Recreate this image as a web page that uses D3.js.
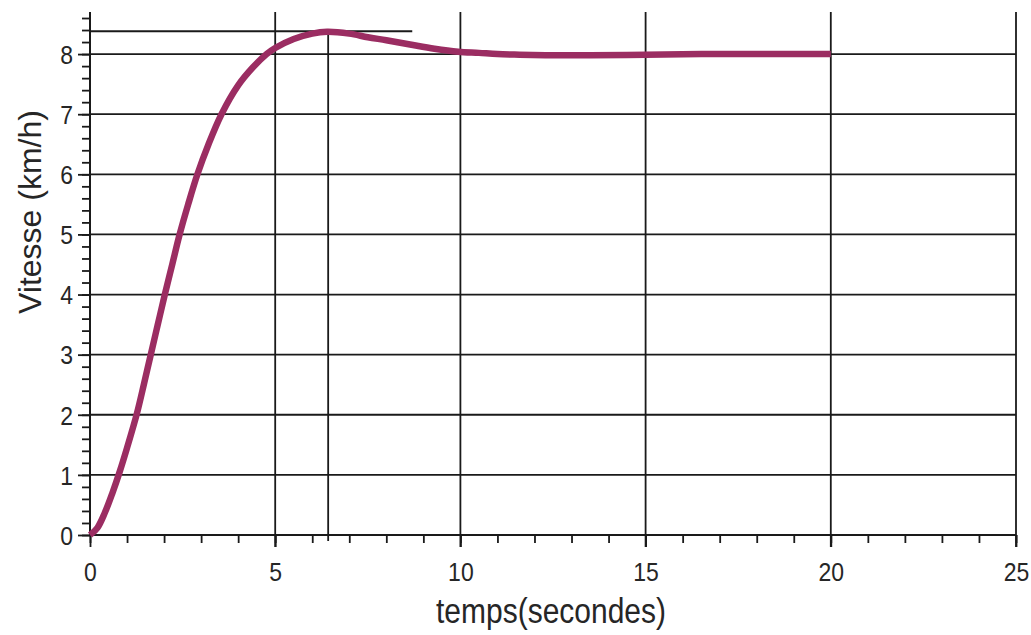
<!DOCTYPE html>
<html>
<head>
<meta charset="utf-8">
<script src="https://cdn.jsdelivr.net/npm/d3@7"></script>
<style>
  html, body { margin: 0; padding: 0; background: #fff; }
  svg { display: block; font-family: "Liberation Sans", Arial, sans-serif; }
</style>
</head>
<body>
<svg id="chart" width="1031" height="635"></svg>
<script>
// ---- data ----
const timeValues  = [0, 0.2, 0.4, 0.6, 0.8, 1.0, 1.27, 1.46, 1.64, 1.83, 2.02, 2.22, 2.42, 2.65, 2.9, 3.2, 3.55, 4.0, 4.4, 4.77, 5.0, 5.5, 6.0, 6.4, 7.0, 7.5, 8.0, 8.64, 9.3, 9.94, 10.5, 11.0, 11.6, 12.5, 13.5, 15.0, 16.5, 18.0, 20.0];
const speedValues = [0, 0.12, 0.37, 0.69, 1.05, 1.45, 2.03, 2.52, 3.0, 3.5, 4.0, 4.5, 5.0, 5.5, 6.0, 6.5, 7.0, 7.48, 7.78, 8.0, 8.1, 8.25, 8.34, 8.37, 8.34, 8.28, 8.23, 8.16, 8.09, 8.04, 8.02, 8.0, 7.99, 7.98, 7.98, 7.99, 8.0, 8.0, 8.0];
const xTickLabels = [0, 5, 10, 15, 20, 25];
const yTickLabels = [0, 1, 2, 3, 4, 5, 6, 7, 8];
const peakTime = 6.43;       // vertical marker line
const peakSpeed = 8.38;      // horizontal marker line
const peakLineEnd = 8.7;     // end of the horizontal marker
const xTitle = "temps(secondes)";
const yTitle = "Vitesse (km/h)";

// ---- layout ----
const mLeft = 90, mRight = 1016, mBottom = 535, mTop = 12;
const svg = d3.select("#chart");

const x = d3.scaleLinear().domain([0, 25]).range([mLeft, mRight]);
const y = d3.scaleLinear().domain([0, 8.7]).range([mBottom, mTop]);

const ink = "#1a1a1a";
const textInk = "#262626";
const curveColor = "#9b2d62";
const gridW = 1.8;

// horizontal grid lines
svg.append("g").selectAll("line")
  .data(yTickLabels.filter(v => v > 0))
  .join("line")
  .attr("x1", x(0)).attr("x2", x(25))
  .attr("y1", d => y(d)).attr("y2", d => y(d))
  .attr("stroke", ink).attr("stroke-width", gridW);

// vertical grid lines
svg.append("g").selectAll("line")
  .data(xTickLabels.filter(v => v > 0))
  .join("line")
  .attr("x1", d => x(d)).attr("x2", d => x(d))
  .attr("y1", y(0) + 12).attr("y2", y(8.7))
  .attr("stroke", ink).attr("stroke-width", gridW);

// x axis: minor ticks every 1, major every 5
const xAxisMinor = d3.axisBottom(x).tickValues(d3.range(0, 26, 1)).tickSize(8).tickFormat("");
const gxm = svg.append("g").attr("transform", `translate(0,${mBottom})`).call(xAxisMinor);
gxm.select(".domain").remove();
gxm.selectAll("line").attr("stroke", ink).attr("stroke-width", 1.8);

const xAxisMajor = d3.axisBottom(x).tickValues(xTickLabels).tickSize(12);
const gx = svg.append("g").attr("transform", `translate(0,${mBottom})`).call(xAxisMajor);
gx.select(".domain").attr("d", `M${mLeft},0H${mRight}`).attr("stroke", ink).attr("stroke-width", 2);
gx.selectAll("line").attr("stroke", ink).attr("stroke-width", 1.8);
gx.selectAll("text")
  .attr("y", 0).attr("dy", "0.71em")
  .attr("transform", "translate(0,27) scale(1,1.15)")
  .attr("font-size", 23).attr("fill", textInk)
  .attr("font-family", "'Liberation Sans', Arial, sans-serif");

// y axis: minor ticks every 0.2, major every 1
const yAxisMinor = d3.axisLeft(y).tickValues(d3.range(0, 8.61, 0.2)).tickSize(8).tickFormat("");
const gym = svg.append("g").attr("transform", `translate(${mLeft},0)`).call(yAxisMinor);
gym.select(".domain").remove();
gym.selectAll("line").attr("stroke", ink).attr("stroke-width", 1.8);

const yAxisMajor = d3.axisLeft(y).tickValues(yTickLabels).tickSize(12).tickPadding(5);
const gy = svg.append("g").attr("transform", `translate(${mLeft},0)`).call(yAxisMajor);
gy.select(".domain").attr("d", `M0,${mTop}V${mBottom}`).attr("stroke", ink).attr("stroke-width", 2);
gy.selectAll("line").attr("stroke", ink).attr("stroke-width", 1.8);
gy.selectAll("text")
  .attr("y", 0).attr("dy", "0.36em")
  .attr("transform", "scale(1,1.12)")
  .attr("font-size", 23).attr("fill", textInk)
  .attr("font-family", "'Liberation Sans', Arial, sans-serif");

// peak marker lines
svg.append("line")
  .attr("x1", x(0)).attr("x2", x(peakLineEnd))
  .attr("y1", y(peakSpeed)).attr("y2", y(peakSpeed))
  .attr("stroke", ink).attr("stroke-width", gridW);
svg.append("line")
  .attr("x1", x(peakTime)).attr("x2", x(peakTime))
  .attr("y1", y(0) + 6).attr("y2", y(peakSpeed))
  .attr("stroke", ink).attr("stroke-width", gridW);

// curve
const pts = timeValues.map((t, i) => [t, speedValues[i]]);
const line = d3.line().x(d => x(d[0])).y(d => y(d[1])).curve(d3.curveCatmullRom.alpha(0.5));
svg.append("path")
  .datum(pts)
  .attr("d", line)
  .attr("fill", "none")
  .attr("stroke", curveColor)
  .attr("stroke-width", 6.5)
  .attr("stroke-linecap", "butt")
  .attr("stroke-linejoin", "round");

// axis titles
svg.append("text")
  .attr("transform", "translate(551,623) scale(1,1.15)")
  .attr("text-anchor", "middle")
  .attr("font-size", 30).attr("fill", textInk)
  .text(xTitle);

svg.append("text")
  .attr("transform", "translate(41,212) rotate(-90)")
  .attr("text-anchor", "middle")
  .attr("font-size", 32).attr("fill", textInk)
  .text(yTitle);
</script>
</body>
</html>
